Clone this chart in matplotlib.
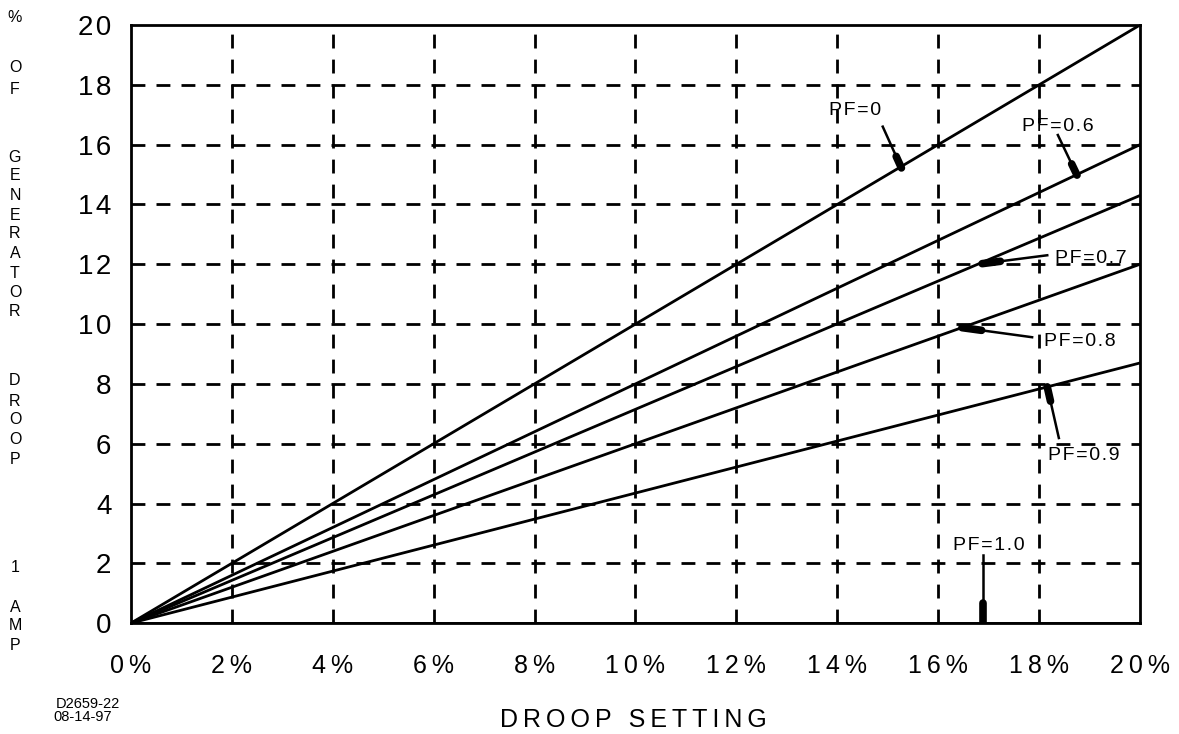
import matplotlib
matplotlib.use("Agg")
import matplotlib.pyplot as plt
import numpy as np

plt.rcParams['font.family'] = ['Liberation Sans', 'DejaVu Sans']

# droop setting (%) and generator droop at 20% setting, per power factor
x_end = 20
pf_names = ["PF=0", "PF=0.6", "PF=0.7", "PF=0.8", "PF=0.9", "PF=1.0"]
droop_at_20 = [20, 16, 14.3, 12, 8.7, 0]

# label text position, arrow tail, arrow head (data units)
label_xy = [(14.35, 17.15), (18.37, 16.6), (19.03, 12.2), (18.81, 9.43), (18.89, 5.62), (17.0, 2.6)]
tail_xy = [(14.9, 16.6), (18.37, 16.32), (18.16, 12.3), (17.86, 9.56), (18.39, 6.19), (16.89, 2.27)]
head_xy = [(15.27, 15.22), (18.75, 14.98), (16.87, 12.02), (16.47, 9.88), (18.16, 7.9), (16.89, 0.05)]

xticks = np.arange(0, 21, 2)
yticks = np.arange(0, 21, 2)

THIN = "\u2009"
HAIR = "\u200a"


def spaced(s, sep=THIN):
    return sep.join(s)


fig = plt.figure(figsize=(11.79, 7.34), dpi=100)
ax = fig.add_axes([0.111, 0.151, 0.856, 0.815])

# dashed grid
for v in xticks[1:-1]:
    ax.axvline(v, color='black', lw=2, dashes=(5, 4), zorder=1)
for v in yticks[1:-1]:
    ax.axhline(v, color='black', lw=2, dashes=(5, 4), zorder=1)

for d in droop_at_20:
    ax.plot([0, x_end], [0, d], color='black', lw=2, zorder=3)

for name, lxy, t, h in zip(pf_names, label_xy, tail_xy, head_xy):
    ax.text(lxy[0], lxy[1], spaced(name, HAIR), fontsize=14, ha='center', va='center', zorder=4)
    ax.plot([t[0], h[0]], [t[1], h[1]], color='black', lw=1.8, zorder=4)
    # thick tip near the curve
    sx = h[0] + 0.28 * (t[0] - h[0])
    sy = h[1] + 0.28 * (t[1] - h[1])
    ax.plot([sx, h[0]], [sy, h[1]], color='black', lw=5.5, solid_capstyle='round', zorder=4)

ax.set_xlim(0, 20)
ax.set_ylim(0, 20)
ax.set_xticks(xticks)
ax.set_xticklabels([spaced(f"{v}%") for v in xticks], fontsize=18)
ax.set_yticks(yticks)
ax.set_yticklabels([spaced(str(v), HAIR) for v in yticks], fontsize=20)
ax.tick_params(axis='x', length=0, pad=22)
ax.tick_params(axis='y', length=0, pad=14)
for s in ax.spines.values():
    s.set_linewidth(2)
    s.set_color('black')

fig.text(633 / 1179, 1 - 720 / 734, spaced("DROOP SETTING"), fontsize=18, ha='center', va='center')

# stacked vertical axis title
ylab_letters = ["%", "O", "F", "G", "E", "N", "E", "R", "A", "T", "O", "R",
                "D", "R", "O", "O", "P", "1", "A", "M", "P"]
ylab_rows = [18, 67, 89, 157, 176, 195, 215, 234, 253, 273, 293, 311,
             381, 401, 420, 439, 459, 568, 607, 626, 646]
for ch, yp in zip(ylab_letters, ylab_rows):
    fig.text(15 / 1179, 1 - yp / 734, ch, fontsize=11.5, ha='center', va='center')

fig.text(56 / 1179, 1 - 704 / 734, "D2659-22", fontsize=10.5, ha='left', va='center')
fig.text(53 / 1179, 1 - 717 / 734, "08-14-97", fontsize=10.5, ha='left', va='center')

fig.savefig("out.png", dpi=100)
